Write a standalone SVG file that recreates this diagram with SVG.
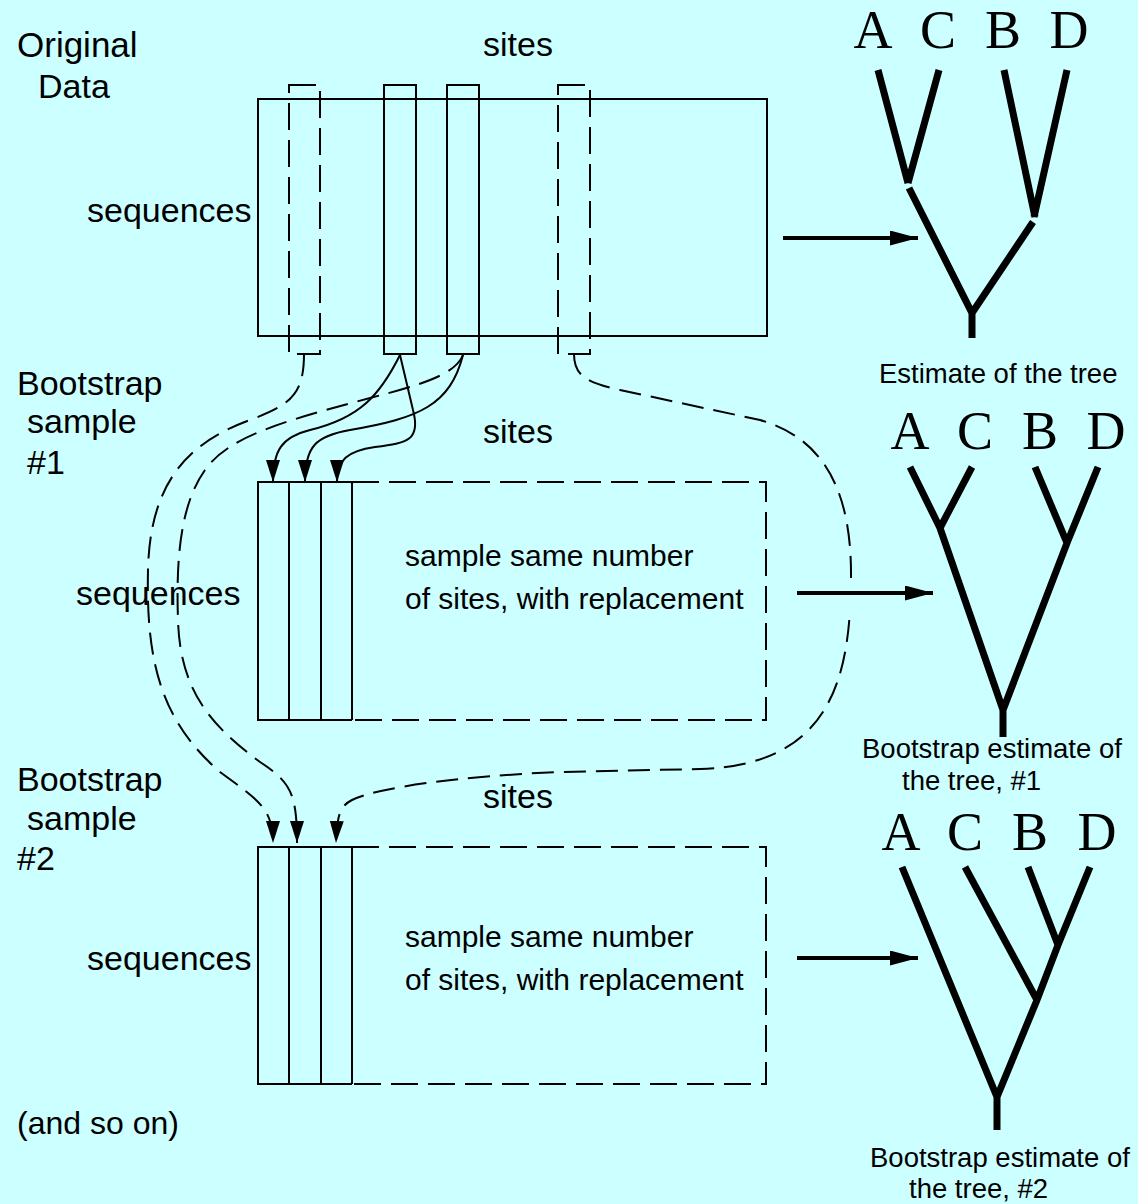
<svg xmlns="http://www.w3.org/2000/svg" width="1138" height="1204" viewBox="0 0 1138 1204">
<defs>
<style>
.bg{fill:#ccffff}
.s{fill:none;stroke:#000;stroke-width:2}
.d{fill:none;stroke:#000;stroke-width:2;stroke-dasharray:27 10}
.c{fill:none;stroke:#000;stroke-width:2;stroke-dasharray:22 10}
.cs{fill:none;stroke:#000;stroke-width:2}
.ar{fill:none;stroke:#000;stroke-width:4}
.tr{fill:none;stroke:#000;stroke-width:7;stroke-linejoin:miter}
.t{font-family:"Liberation Sans",Arial,sans-serif;fill:#000}
.L{font-size:34px}
.M{font-size:30px}
.S{font-size:27.5px}
.tl{font-family:"Liberation Serif","Times New Roman",serif;font-size:54px;fill:#000;text-anchor:middle}
</style>
<marker id="ah" markerWidth="22" markerHeight="14" refX="22" refY="7" orient="auto" markerUnits="userSpaceOnUse" viewBox="0 0 22 14">
<path d="M0,0 L22,7 L0,14 Z" fill="#000"/>
</marker>
<marker id="ab" markerWidth="28" markerHeight="15" refX="28" refY="7.5" orient="auto" markerUnits="userSpaceOnUse" viewBox="0 0 28 15">
<path d="M0,0 L28,7.5 L0,15 Z" fill="#000"/>
</marker>
</defs>
<rect class="bg" x="0" y="0" width="1138" height="1204"/>

<g id="labels">
<text class="t L" x="17" y="57" style="font-size:35px">Original</text>
<text class="t L" x="38" y="98">Data</text>
<text class="t L" x="17" y="395">Bootstrap</text>
<text class="t L" x="27" y="433">sample</text>
<text class="t L" x="27" y="474">#1</text>
<text class="t L" x="17" y="791">Bootstrap</text>
<text class="t L" x="27" y="830">sample</text>
<text class="t L" x="17" y="870">#2</text>
<text class="t M" x="17" y="1134" style="font-size:32px">(and so on)</text>
</g>

<g id="original-data">
<rect class="s" x="258" y="99" width="509" height="237"/>
<rect class="d" x="289" y="85" width="31" height="269"/>
<rect class="s" x="384" y="85" width="32" height="269"/>
<rect class="s" x="447" y="85" width="32" height="269"/>
<rect class="d" x="558" y="85" width="32" height="269"/>
<text class="t L" x="483" y="56">sites</text>
<text class="t L" x="87" y="222">sequences</text>
</g>

<g id="sample1">
<path class="s" d="M352,482 H258 V720 H352 M289,482 V720 M321,482 V720 M352,482 V720"/>
<path class="d" d="M352,482 H766 V720 H352"/>
<text class="t L" x="483" y="443">sites</text>
<text class="t L" x="76" y="605">sequences</text>
<text class="t M" x="405" y="566">sample same number</text>
<text class="t M" x="405" y="609">of sites, with replacement</text>
</g>

<g id="sample2">
<path class="s" d="M352,847 H258 V1084 H352 M289,847 V1084 M321,847 V1084 M352,847 V1084"/>
<path class="d" d="M352,847 H766 V1084 H352"/>
<text class="t L" x="483" y="808">sites</text>
<text class="t L" x="87" y="970">sequences</text>
<text class="t M" x="405" y="947">sample same number</text>
<text class="t M" x="405" y="990">of sites, with replacement</text>
</g>

<g id="tree0">
<text class="tl" x="873" y="48">A</text>
<text class="tl" x="938" y="48">C</text>
<text class="tl" x="1003" y="48">B</text>
<text class="tl" x="1069" y="48">D</text>
<path class="tr" d="M878,70 L908,183 M939,70 L908,183 M1004,70 L1035,217 M1067,70 L1034,217 M909,188 L972,313 L1033,222 M972,313 V338"/>
<text class="t S" x="879" y="383">Estimate of the tree</text>
</g>

<g id="tree1">
<text class="tl" x="910" y="449">A</text>
<text class="tl" x="975" y="449">C</text>
<text class="tl" x="1040" y="449">B</text>
<text class="tl" x="1106" y="449">D</text>
<path class="tr" d="M910,467 L940,528 M972,467 L940,528 M1035,467 L1067,543 M1098,467 L1067,543 M940,528 L1003,710 L1067,543 M1003,710 V737"/>
<text class="t S" x="862" y="758">Bootstrap estimate of</text>
<text class="t S" x="902" y="790">the tree, #1</text>
</g>

<g id="tree2">
<text class="tl" x="901" y="850">A</text>
<text class="tl" x="965" y="850">C</text>
<text class="tl" x="1030" y="850">B</text>
<text class="tl" x="1097" y="850">D</text>
<path class="tr" d="M902,867 L997,1097 M965,867 L1037,1000 M1028,867 L1058,945 M1090,867 L1058,945 L1037,1000 L997,1097 M997,1097 V1130"/>
<text class="t S" x="870" y="1167">Bootstrap estimate of</text>
<text class="t S" x="909" y="1198">the tree, #2</text>
</g>

<g id="connectors">
<path class="cs" d="M400,355 C380,395 360,418 310,430 C282,437 273,450 273,482" marker-end="url(#ah)"/>
<path class="cs" d="M400,355 L413,410 C421,440 408,443 375,447 C347,451 337,460 337,482" marker-end="url(#ah)"/>
<path class="cs" d="M463,355 C450,405 420,418 350,430 C316,436 305,446 305,482" marker-end="url(#ah)"/>

<path class="c" d="M304,354 C304,395 290,405 250,420 C190,442 150,480 148,570 C146,660 160,720 220,772 C258,800 273,808 273,843" marker-end="url(#ah)"/>
<path class="c" d="M463,355 C455,375 420,385 370,398 C280,422 228,437 205,470 C180,505 176,560 178,620 C180,690 210,725 260,762 C290,782 297,792 297,843" marker-end="url(#ah)"/>
<path class="c" d="M574,354 C574,375 585,382 620,390 L760,420 C830,440 852,500 851,580 C850,680 830,765 700,769 L560,772 C460,776 375,788 352,800 C340,806 337,815 336,843" marker-end="url(#ah)"/>

<rect class="bg" x="843" y="578" width="16" height="34"/>
<path class="ar" d="M783,238 H918" marker-end="url(#ab)"/>
<path class="ar" d="M797,593 H933" marker-end="url(#ab)"/>
<path class="ar" d="M797,958 H918" marker-end="url(#ab)"/>
</g>
</svg>
